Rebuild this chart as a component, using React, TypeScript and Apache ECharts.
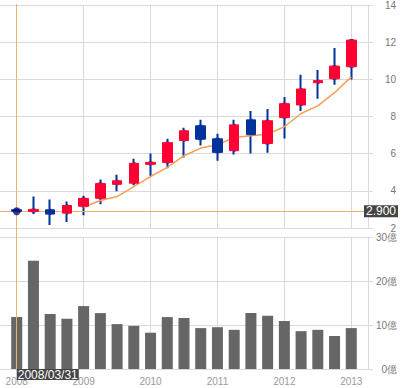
import React, { useEffect, useRef } from 'react';
import * as echarts from 'echarts';

const dates = [
  '2008/03/31', '2008/06/30', '2008/09/30', '2008/12/31',
  '2009/03/31', '2009/06/30', '2009/09/30', '2009/12/31',
  '2010/03/31', '2010/06/30', '2010/09/30', '2010/12/31',
  '2011/03/31', '2011/06/30', '2011/09/30', '2011/12/31',
  '2012/03/31', '2012/06/30', '2012/09/30', '2012/12/31',
  '2013/03/31',
];
const padBefore = '2007/12/31';
const padAfter = '2013/06/30';

const opens = [2.98, 2.89, 2.98, 2.8, 3.17, 3.6, 4.35, 4.41, 5.43, 5.53, 6.71, 7.5, 6.8, 6.16, 7.82, 6.55, 7.94, 8.62, 9.82, 10.03, 10.68];
const closes = [2.9, 3.0, 2.75, 3.21, 3.59, 4.39, 4.54, 5.48, 5.53, 6.59, 7.23, 6.78, 6.07, 7.55, 7.02, 7.77, 8.69, 9.48, 9.93, 10.71, 12.11];
const lows = [2.88, 2.75, 2.16, 2.32, 2.69, 3.28, 3.98, 4.3, 4.77, 5.21, 5.8, 6.44, 5.62, 5.95, 6.01, 6.05, 6.82, 8.3, 8.96, 9.71, 9.99];
const highs = [3.0, 3.69, 3.53, 3.43, 3.73, 4.61, 4.87, 5.73, 6.01, 6.8, 7.39, 7.82, 7.07, 7.82, 8.3, 8.41, 9.05, 10.25, 10.5, 11.68, 12.11];
const movingAvg: (number | null)[] = [null, null, null, null, 3.12, 3.48, 3.69, 4.23, 4.77, 5.26, 5.89, 6.3, 6.48, 6.87, 6.96, 7.05, 7.45, 8.16, 8.57, 9.28, 10.13];
const volumes = [11.8, 24.6, 12.5, 11.4, 14.3, 12.7, 10.2, 9.8, 8.25, 11.8, 11.6, 9.3, 9.5, 8.9, 12.7, 12.1, 10.9, 8.6, 8.9, 7.5, 9.3];

const priceTicks = { min: 2, max: 14, interval: 2 };
const volumeTicks = { min: 0, max: 30, interval: 10 };
const volumeUnit = '億';

const crosshairDate = '2008/03/31';
const crosshairPrice = 2.9;

const RED = '#ff0033';
const BLUE = '#003399';
const GRID_LINE = '#dadada';
const CROSS = '#ebb06c';
const FONT = 'Liberation Sans, Arial, sans-serif';

export default function App() {
  const ref = useRef<HTMLDivElement>(null);

  useEffect(() => {
    if (!ref.current) return;
    const chart = echarts.init(ref.current, undefined, { renderer: 'svg' });
    const categories = [padBefore, ...dates, padAfter];
    const yearTick = (index: number) => index >= 1 && (index - 1) % 4 === 0;

    const wickData = dates.map((d, i) => [d, opens[i], closes[i], lows[i], highs[i]]);
    const bodyData = dates.map((d, i) => [
      d, opens[i], closes[i], Math.min(opens[i], closes[i]), Math.max(opens[i], closes[i]),
    ]);
    const maData = dates
      .map((d, i) => [d, movingAvg[i]])
      .filter((p) => p[1] !== null);
    const volData = dates.map((d, i) => [d, volumes[i]]);

    const xBase = (gridIndex: number) => ({
      type: 'category',
      gridIndex,
      data: categories,
      boundaryGap: false,
      axisLine: { show: false },
      axisTick: { show: false },
      axisLabel: { show: false },
      splitLine: { show: false },
    });

    const option: any = {
      animation: false,
      backgroundColor: '#ffffff',
      grid: [
        { left: 0, top: 4, width: 368, height: 224 },
        { left: 0, top: 237, width: 368, height: 132 },
        { left: 0, top: 4, width: 368, height: 365 },
      ],
      xAxis: [
        {
          ...xBase(0),
          splitLine: {
            show: true,
            interval: (index: number) => yearTick(index),
            lineStyle: { color: GRID_LINE, width: 1 },
          },
        },
        {
          ...xBase(1),
          splitLine: {
            show: true,
            interval: (index: number) => yearTick(index),
            lineStyle: { color: GRID_LINE, width: 1 },
          },
          axisLabel: {
            show: true,
            interval: (index: number) => yearTick(index),
            formatter: (v: string) => v.slice(0, 4),
            color: '#9a9a9a',
            fontSize: 10,
            fontFamily: FONT,
            margin: 7,
          },
        },
        xBase(2),
      ],
      yAxis: [
        {
          type: 'value',
          gridIndex: 0,
          position: 'right',
          min: priceTicks.min,
          max: priceTicks.max,
          interval: priceTicks.interval,
          axisLine: { show: true, lineStyle: { color: GRID_LINE } },
          axisTick: { show: true, length: 5, lineStyle: { color: GRID_LINE } },
          splitLine: { show: true, lineStyle: { color: GRID_LINE, width: 1 } },
          axisLabel: {
            align: 'right',
            margin: 28,
            color: '#777',
            fontSize: 10,
            fontFamily: FONT,
          },
        },
        {
          type: 'value',
          gridIndex: 1,
          position: 'right',
          min: volumeTicks.min,
          max: volumeTicks.max,
          interval: volumeTicks.interval,
          axisLine: { show: true, lineStyle: { color: GRID_LINE } },
          axisTick: { show: true, length: 5, lineStyle: { color: GRID_LINE } },
          splitLine: { show: true, lineStyle: { color: GRID_LINE, width: 1 } },
          axisLabel: {
            align: 'right',
            margin: 29,
            color: '#777',
            fontSize: 10,
            fontFamily: FONT,
            formatter: (v: number) => `${v}${volumeUnit}`,
          },
        },
        {
          type: 'value',
          gridIndex: 2,
          min: 0,
          max: 1,
          show: false,
          splitLine: { show: false },
        },
      ],
      series: [
        {
          type: 'candlestick',
          name: 'wick',
          xAxisIndex: 0,
          yAxisIndex: 0,
          encode: { x: 0, y: [1, 2, 3, 4] },
          data: wickData,
          barWidth: 2,
          itemStyle: {
            color: BLUE,
            color0: BLUE,
            borderColor: BLUE,
            borderColor0: BLUE,
            borderWidth: 2,
          },
          z: 3,
        },
        {
          type: 'line',
          name: 'MA',
          xAxisIndex: 0,
          yAxisIndex: 0,
          data: maData,
          symbol: 'none',
          lineStyle: { color: '#f7a055', width: 1.5 },
          z: 4,
        },
        {
          type: 'candlestick',
          name: 'body',
          xAxisIndex: 0,
          yAxisIndex: 0,
          encode: { x: 0, y: [1, 2, 3, 4] },
          data: bodyData,
          barWidth: 10,
          itemStyle: {
            color: RED,
            color0: BLUE,
            borderColor: RED,
            borderColor0: BLUE,
            borderWidth: 1,
          },
          z: 5,
        },
        {
          type: 'scatter',
          name: 'cross',
          xAxisIndex: 0,
          yAxisIndex: 0,
          data: [[crosshairDate, crosshairPrice]],
          symbol: 'circle',
          symbolSize: 8,
          itemStyle: { color: '#0a0a80' },
          z: 8,
          markLine: {
            silent: true,
            symbol: 'none',
            animation: false,
            lineStyle: { color: CROSS, width: 1, type: 'solid' },
            data: [{ yAxis: crosshairPrice }],
            label: {
              show: true,
              position: 'end',
              distance: -4,
              formatter: crosshairPrice.toFixed(3),
              color: '#ffffff',
              backgroundColor: '#444444',
              padding: [1, 2, 0, 2],
              fontSize: 12,
              lineHeight: 11,
              fontFamily: FONT,
            },
          },
        },
        {
          type: 'bar',
          name: 'volume',
          xAxisIndex: 1,
          yAxisIndex: 1,
          data: volData,
          barWidth: 11,
          itemStyle: { color: '#666666' },
          z: 3,
        },
        {
          type: 'line',
          name: 'crossV',
          xAxisIndex: 2,
          yAxisIndex: 2,
          data: [],
          z: 9,
          markLine: {
            silent: true,
            symbol: 'none',
            animation: false,
            lineStyle: { color: CROSS, width: 1, type: 'solid' },
            data: [{ xAxis: crosshairDate }],
            label: {
              show: true,
              position: 'start',
              distance: 0,
              align: 'left',
              verticalAlign: 'top',
              formatter: crosshairDate,
              color: '#ffffff',
              backgroundColor: '#444444',
              padding: [0, 1, 0, 1],
              fontSize: 12,
              lineHeight: 11,
              fontFamily: FONT,
            },
          },
        },
      ],
    };
    chart.setOption(option);
    return () => chart.dispose();
  }, []);

  return (
    <div
      ref={ref}
      style={{ position: 'fixed', left: 0, top: 0, width: 402, height: 388, background: '#fff' }}
    />
  );
}
